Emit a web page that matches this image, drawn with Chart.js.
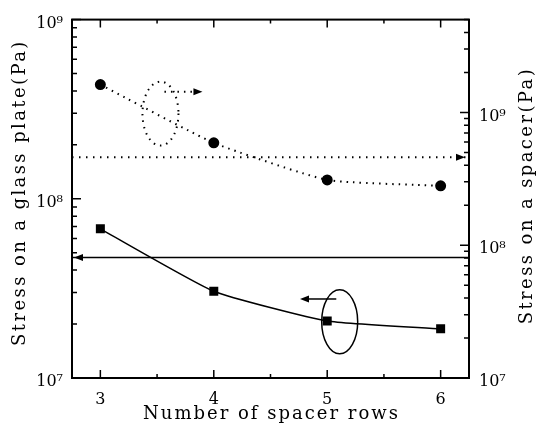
<!DOCTYPE html>
<html><head><meta charset="utf-8">
<script src="https://cdn.jsdelivr.net/npm/chart.js@4/dist/chart.umd.min.js"></script>
<style>html,body{margin:0;padding:0;background:#fff}#wrap{width:538px;height:434px}</style>
</head><body><div id="wrap"><canvas id="c" width="538" height="434"></canvas></div>
<script>
// ---- data ----
const rows = [3, 4, 5, 6];
const glassStress = [6.8e7, 3.05e7, 2.08e7, 1.88e7];   // left axis
const spacerStress = [1.62e9, 5.9e8, 3.1e8, 2.8e8];    // right axis
const glassLimit = 4.7e7;    // solid reference line (left axis)
const spacerLimit = 4.6e8;   // dotted reference line (right axis)
const xTicks = [3, 4, 5, 6];
const yTicks = [1e7, 1e8, 1e9];
const yTickLabels = ['10⁷', '10⁸', '10⁹'];
const xRange = [2.75, 6.25];
const yRange = [1e7, 1e9];
const y2Range = [1e7, 5e9];
const xTitle = 'Number of spacer rows';
const yTitle = 'Stress on a glass plate(Pa)';
const y2Title = 'Stress on a spacer(Pa)';
// ellipse + arrow call-outs, in data coordinates
const notes = [
  {axis: 'y2', cx: 3.53, cy: 9.8e8, ax0: 3.565, ax1: 3.9, ay: 1.43e9, dotted: true},
  {axis: 'y',  cx: 5.11, cy: 2.06e7, ax0: 5.08, ax1: 4.76, ay: 2.76e7, dotted: false}
];

const FONT = "'DejaVu Serif', 'Liberation Serif', serif";
const tickLabel = v => { const i = yTicks.indexOf(v); return i >= 0 ? yTickLabels[i] : ''; };

function arrowHead(ctx, x, y, dir) {
  ctx.beginPath();
  ctx.moveTo(x, y);
  ctx.lineTo(x - dir * 9, y - 3.5);
  ctx.lineTo(x - dir * 9, y + 3.5);
  ctx.closePath();
  ctx.fill();
}

function drawTitle(ctx, text, x, y, rot, spacing) {
  ctx.save();
  ctx.translate(x, y);
  ctx.rotate(rot);
  ctx.font = '18px ' + FONT;
  ctx.fillStyle = '#000';
  if ('letterSpacing' in ctx) ctx.letterSpacing = spacing + 'px';
  ctx.textAlign = 'center';
  ctx.textBaseline = 'middle';
  ctx.fillText(text, spacing / 2, 0);
  ctx.restore();
}

const framePlugin = {
  id: 'frame',
  afterDatasetsDraw(chart) {
    const {ctx, chartArea: a, scales} = chart;
    const {x, y, y2} = scales;
    ctx.save();
    ctx.strokeStyle = '#000'; ctx.fillStyle = '#000';
    ctx.lineWidth = 2;
    ctx.strokeRect(a.left, a.top, a.right - a.left, a.bottom - a.top);
    ctx.lineWidth = 1.5;
    ctx.beginPath();
    xTicks.forEach((v, i) => {
      const px = x.getPixelForValue(v);
      ctx.moveTo(px, a.bottom); ctx.lineTo(px, a.bottom - 8);
      ctx.moveTo(px, a.top); ctx.lineTo(px, a.top + 8);
      if (i < xTicks.length - 1) {
        const pm = x.getPixelForValue(v + 0.5);
        ctx.moveTo(pm, a.bottom); ctx.lineTo(pm, a.bottom - 4);
        ctx.moveTo(pm, a.top); ctx.lineTo(pm, a.top + 4);
      }
    });
    const logTicks = (scale, rng, edge, dir) => {
      for (let d = rng[0]; d <= rng[1]; d *= 10) {
        for (let m = 1; m <= 9; m++) {
          const v = m * d;
          if (v < rng[0] || v > rng[1] * 1.0001) continue;
          const py = scale.getPixelForValue(v);
          const len = m === 1 ? 9 : 5;
          ctx.moveTo(edge, py); ctx.lineTo(edge + dir * len, py);
        }
      }
    };
    logTicks(y, yRange, a.left, 1);
    logTicks(y2, y2Range, a.right, -1);
    ctx.stroke();

    // limit-line end arrows
    arrowHead(ctx, a.left + 2, y.getPixelForValue(glassLimit), -1);
    arrowHead(ctx, a.right - 4, y2.getPixelForValue(spacerLimit), 1);

    // call-outs
    notes.forEach(n => {
      const s = scales[n.axis];
      const cx = x.getPixelForValue(n.cx), cy = s.getPixelForValue(n.cy);
      ctx.lineWidth = n.dotted ? 2 : 1.5;
      ctx.setLineDash(n.dotted ? [1.5, 5] : []);
      ctx.beginPath();
      ctx.ellipse(cx, cy, 18, 32, 0, 0, Math.PI * 2);
      ctx.stroke();
      const ay = s.getPixelForValue(n.ay);
      const x0 = x.getPixelForValue(n.ax0), x1 = x.getPixelForValue(n.ax1);
      const dir = x1 > x0 ? 1 : -1;
      ctx.beginPath();
      ctx.moveTo(x0, ay); ctx.lineTo(x1 - dir * 6, ay);
      ctx.stroke();
      ctx.setLineDash([]);
      arrowHead(ctx, x1, ay, dir);
    });
    ctx.restore();

    // axis titles (both vertical titles read bottom-to-top)
    const midY = (a.top + a.bottom) / 2;
    drawTitle(ctx, yTitle, 20, midY - 5, -Math.PI / 2, 2.4);
    drawTitle(ctx, y2Title, 527, midY - 2, -Math.PI / 2, 2.4);
    drawTitle(ctx, xTitle, (a.left + a.right) / 2, 414, 0, 2);
  }
};

new Chart(document.getElementById('c'), {
  type: 'line',
  data: {
    datasets: [
      {
        label: 'glass', yAxisID: 'y',
        data: rows.map((r, i) => ({x: r, y: glassStress[i]})),
        borderColor: '#000', backgroundColor: '#000', borderWidth: 1.5,
        pointStyle: 'rect', pointRadius: 5.3, tension: 0.15
      },
      {
        label: 'spacer', yAxisID: 'y2',
        data: rows.map((r, i) => ({x: r, y: spacerStress[i]})),
        borderColor: '#000', backgroundColor: '#000', borderWidth: 2, borderDash: [1.5, 5],
        pointStyle: 'circle', pointRadius: 4.5, tension: 0.15
      },
      {
        label: 'glass limit', yAxisID: 'y',
        data: xRange.map(v => ({x: v, y: glassLimit})),
        borderColor: '#000', borderWidth: 1.6, pointRadius: 0
      },
      {
        label: 'spacer limit', yAxisID: 'y2',
        data: xRange.map(v => ({x: v, y: spacerLimit})),
        borderColor: '#000', borderWidth: 2, borderDash: [1.5, 5.5], pointRadius: 0
      }
    ]
  },
  options: {
    responsive: false, animation: false, devicePixelRatio: 1,
    layout: {padding: {top: 15, left: 0, right: 0, bottom: 0}},
    plugins: {legend: {display: false}, tooltip: {enabled: false}},
    scales: {
      x: {
        type: 'linear', min: xRange[0], max: xRange[1],
        grid: {display: false, drawTicks: false}, border: {display: false},
        afterBuildTicks: s => { s.ticks = xTicks.map(v => ({value: v})); },
        afterFit: s => { s.height = 56; },
        ticks: {color: '#000', font: {family: FONT, size: 16}, padding: 12, maxRotation: 0},
        title: {display: false}
      },
      y: {
        type: 'logarithmic', position: 'left', min: yRange[0], max: yRange[1],
        grid: {display: false, drawTicks: false}, border: {display: false},
        afterBuildTicks: s => { s.ticks = yTicks.map(v => ({value: v})); },
        afterFit: s => { s.width = 72; },
        ticks: {color: '#000', font: {family: FONT, size: 16}, padding: 9, labelOffset: 4, callback: tickLabel},
        title: {display: false}
      },
      y2: {
        type: 'logarithmic', position: 'right', min: y2Range[0], max: y2Range[1],
        grid: {display: false, drawTicks: false}, border: {display: false},
        afterBuildTicks: s => { s.ticks = yTicks.map(v => ({value: v})); },
        afterFit: s => { s.width = 69; },
        ticks: {color: '#000', font: {family: FONT, size: 16}, padding: 10, labelOffset: 4, callback: tickLabel},
        title: {display: false}
      }
    }
  },
  plugins: [framePlugin]
});
</script>
</body></html>
